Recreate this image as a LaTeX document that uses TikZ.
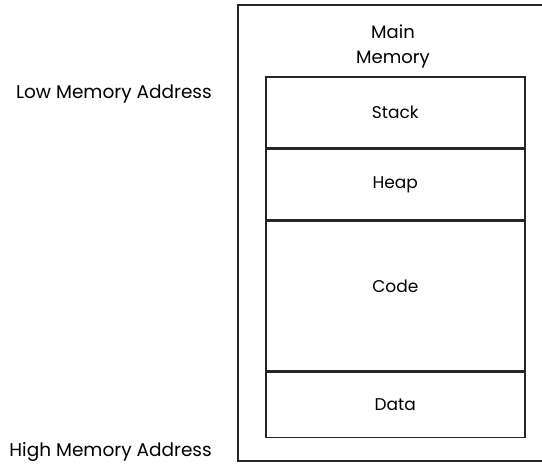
\documentclass[tikz,border=0pt]{standalone}
\usepackage{fontspec}
\setmainfont{Poppins}
\usetikzlibrary{positioning}

\begin{document}
\begin{tikzpicture}[x=1pt,y=-1pt,node distance=0pt,
			seg node/.style={draw=black!85,line width=1.6pt,minimum width=259pt,inner sep=0pt,font=\fontsize{17}{20}\selectfont},
			addr node/.style={anchor=east,inner sep=0pt,font=\fontsize{18.5}{22}\selectfont}]
			
			\useasboundingbox (0,0) rectangle (542,464);
			
			% outer memory box, open to the right
			\draw[black!85,line width=1.3pt] (545,5) -- (238,5) -- (238,461) -- (545,461);
			\node[align=center,font=\fontsize{18}{25}\selectfont] (main) at (393,46) {Main\\Memory};
			
			\node[seg node,minimum height=71pt,anchor=north west] (stack) at (265,76) {Stack};
			\node[seg node,minimum height=70pt] (heap) [below=of stack] {Heap};
			\node[seg node,minimum height=150pt] (code) [below=of heap] {\raisebox{20pt}{Code}};
			\node[seg node,minimum height=65pt] (data) [below=of code] {Data};
			
			\node[addr node] (low) at (212,94) {Low Memory Address};
			\node[addr node] (high) at (212,452) {High Memory Address};
		\end{tikzpicture}
\end{document}
